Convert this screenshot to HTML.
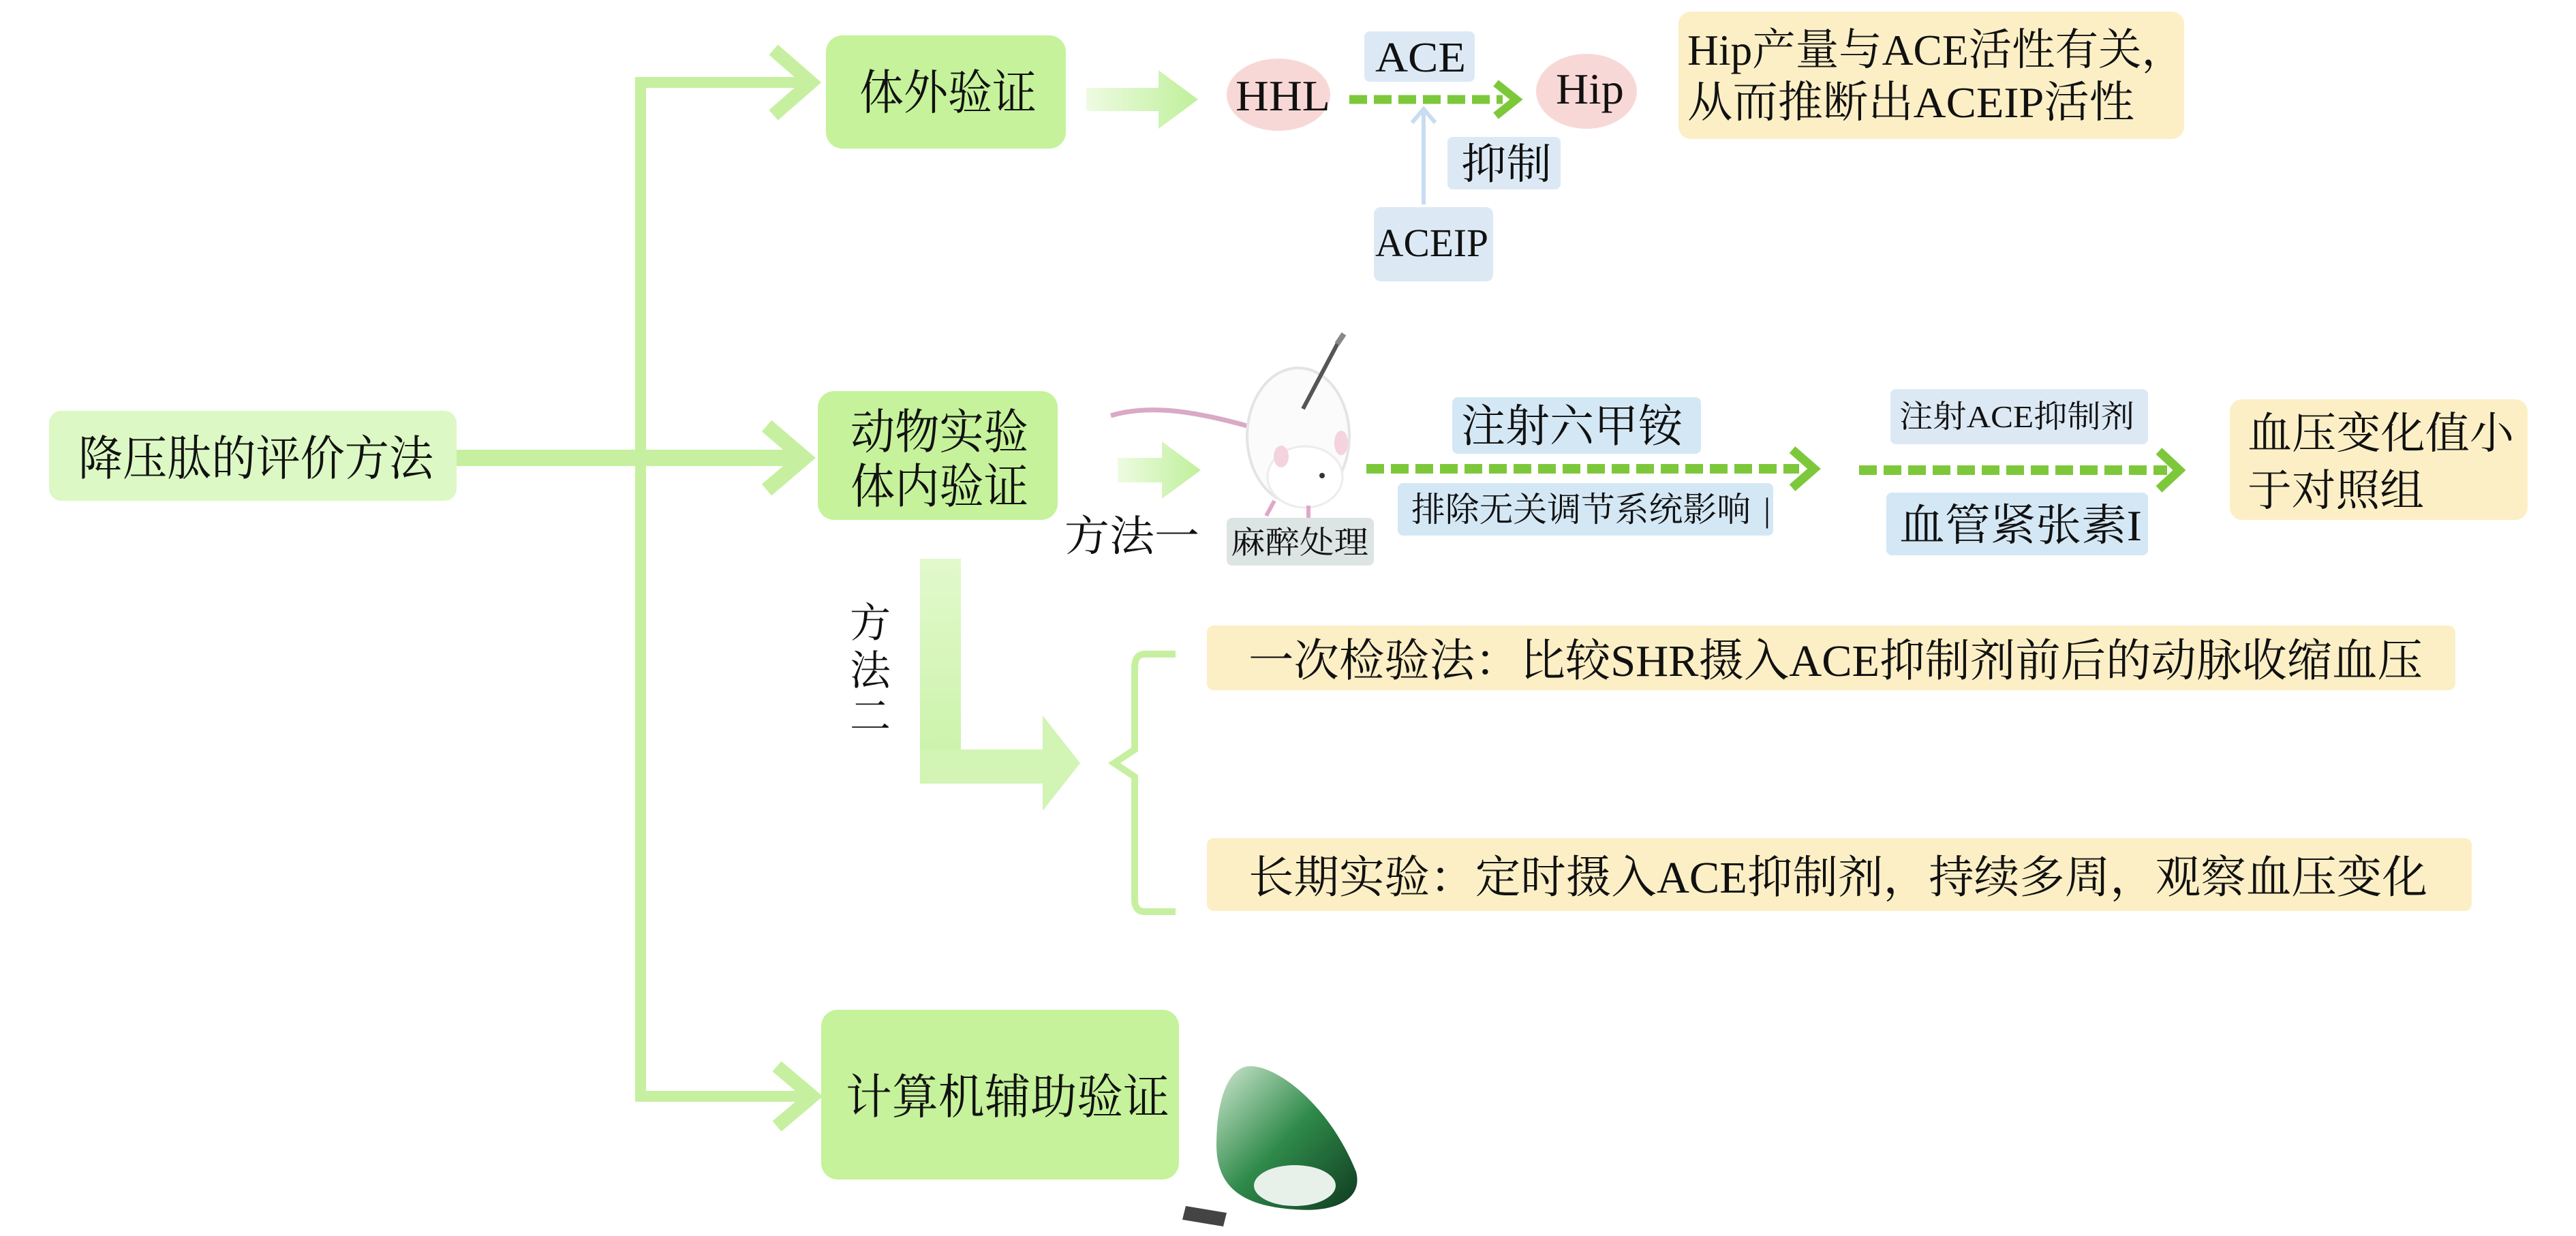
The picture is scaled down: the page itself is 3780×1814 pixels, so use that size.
<!DOCTYPE html>
<html><head><meta charset="utf-8"><style>
html,body{margin:0;padding:0;background:#fff;}
svg{display:block;}
text{font-family:"Liberation Serif","Noto Serif CJK SC","Noto Sans CJK SC",serif;fill:#111;}
</style></head><body>
<svg width="3780" height="1814" viewBox="0 0 3780 1814" xmlns="http://www.w3.org/2000/svg">
<defs>
<linearGradient id="ga" x1="0" x2="1"><stop offset="0" stop-color="#eefbe2"/><stop offset="1" stop-color="#bff09a"/></linearGradient>
<linearGradient id="gv" x1="0" y1="0" x2="0" y2="1"><stop offset="0" stop-color="#e2f9cc"/><stop offset="1" stop-color="#c8f2a6"/></linearGradient>
<linearGradient id="gc" x1="0" y1="0" x2="1" y2="1"><stop offset="0" stop-color="#cfe8d0"/><stop offset="0.5" stop-color="#2f8a4a"/><stop offset="1" stop-color="#0f3a20"/></linearGradient>
</defs>

<!-- main tree lines -->
<rect x="932" y="113" width="16" height="1504" fill="#c6f0a0"/>
<rect x="932" y="113" width="250" height="16" fill="#c6f0a0"/>
<polyline points="1135,73 1190,121 1135,169" fill="none" stroke="#c6f0a0" stroke-width="20"/>
<rect x="670" y="660" width="500" height="24" fill="#c6f0a0"/>
<polyline points="1125,625 1180,672 1125,719" fill="none" stroke="#c6f0a0" stroke-width="22"/>
<rect x="932" y="1601" width="250" height="16" fill="#c6f0a0"/>
<polyline points="1140,1565 1192,1609 1140,1653" fill="none" stroke="#c6f0a0" stroke-width="20"/>

<!-- root -->
<rect x="72" y="603" width="598" height="132" rx="18" fill="#dcf8c4"/>
<text x="115" y="697" font-size="70" textLength="521" lengthAdjust="spacingAndGlyphs">降压肽的评价方法</text>

<!-- level boxes -->
<rect x="1212" y="52" width="352" height="166" rx="24" fill="#c5f29a"/>
<text x="1261" y="160" font-size="70" textLength="260" lengthAdjust="spacingAndGlyphs">体外验证</text>
<rect x="1200" y="574" width="352" height="189" rx="24" fill="#c5f29a"/>
<text x="1248" y="658" font-size="70" textLength="261" lengthAdjust="spacingAndGlyphs">动物实验</text>
<text x="1248" y="738" font-size="70" textLength="261" lengthAdjust="spacingAndGlyphs">体内验证</text>
<rect x="1205" y="1482" width="525" height="249" rx="24" fill="#c5f29a"/>
<text x="1241" y="1634" font-size="70" textLength="475" lengthAdjust="spacingAndGlyphs">计算机辅助验证</text>

<!-- top branch -->
<path d="M1594,129 L1700,129 L1700,103 L1758,146 L1700,189 L1700,163 L1594,163 Z" fill="url(#ga)"/>
<ellipse cx="1876" cy="139" rx="76" ry="53" fill="#f8d8d6"/>
<text x="1813" y="162" font-size="64" textLength="139" lengthAdjust="spacingAndGlyphs">HHL</text>
<rect x="2002" y="46" width="162" height="74" rx="8" fill="#dce9f5"/>
<text x="2018" y="105" font-size="62" textLength="133" lengthAdjust="spacingAndGlyphs">ACE</text>
<line x1="1980" y1="146" x2="2205" y2="146" stroke="#7dc83a" stroke-width="13" stroke-dasharray="26,10"/>
<polyline points="2195,122 2225,146 2195,170" fill="none" stroke="#7dc83a" stroke-width="12"/>
<ellipse cx="2328" cy="134" rx="74" ry="55" fill="#f8d8d6"/>
<text x="2283" y="152" font-size="64" textLength="100" lengthAdjust="spacingAndGlyphs">Hip</text>
<rect x="2124" y="201" width="166" height="77" rx="8" fill="#dce9f5"/>
<text x="2144" y="262" font-size="62" textLength="133" lengthAdjust="spacingAndGlyphs">抑制</text>
<line x1="2089" y1="300" x2="2089" y2="165" stroke="#c8dcf2" stroke-width="6"/>
<polyline points="2072,180 2089,160 2106,180" fill="none" stroke="#c8dcf2" stroke-width="6"/>
<rect x="2016" y="304" width="175" height="109" rx="10" fill="#dce9f5"/>
<text x="2018" y="376" font-size="58" textLength="166" lengthAdjust="spacingAndGlyphs">ACEIP</text>
<rect x="2463" y="17" width="742" height="187" rx="18" fill="#fcefc6"/>
<text x="2476" y="95" font-size="64" textLength="730" lengthAdjust="spacingAndGlyphs">Hip产量与ACE活性有关，</text>
<text x="2476" y="172" font-size="64" textLength="656" lengthAdjust="spacingAndGlyphs">从而推断出ACEIP活性</text>

<!-- middle branch -->
<path d="M1640,672 L1705,672 L1705,648 L1762,690 L1705,732 L1705,708 L1640,708 Z" fill="url(#ga)"/>
<text x="1562" y="808" font-size="62" textLength="198" lengthAdjust="spacingAndGlyphs">方法一</text>
<!-- mouse -->
<path d="M1630,610 C1680,595 1740,600 1830,625" fill="none" stroke="#d9a9c6" stroke-width="7"/>
<ellipse cx="1905" cy="640" rx="75" ry="100" fill="#fbfbfb" stroke="#e4e4e4" stroke-width="4"/>
<ellipse cx="1915" cy="700" rx="55" ry="45" fill="#fff" stroke="#ececec" stroke-width="3"/>
<ellipse cx="1968" cy="650" rx="10" ry="18" fill="#f4d2de"/>
<ellipse cx="1880" cy="670" rx="11" ry="16" fill="#f4d2de"/>
<circle cx="1940" cy="698" r="4" fill="#333"/>
<path d="M1870,735 l-12,22 M1920,742 l0,20" stroke="#e0a8c8" stroke-width="6"/>
<line x1="1912" y1="600" x2="1965" y2="500" stroke="#555" stroke-width="6"/>
<line x1="1962" y1="505" x2="1972" y2="490" stroke="#888" stroke-width="8"/>
<rect x="1800" y="760" width="216" height="70" rx="8" fill="#dde4e4"/>
<text x="1806" y="812" font-size="46" textLength="202" lengthAdjust="spacingAndGlyphs">麻醉处理</text>
<rect x="2131" y="583" width="365" height="83" rx="8" fill="#d4e7f5"/>
<text x="2144" y="648" font-size="66" textLength="325" lengthAdjust="spacingAndGlyphs">注射六甲铵</text>
<line x1="2005" y1="688" x2="2640" y2="688" stroke="#7dc83a" stroke-width="14" stroke-dasharray="26,10"/>
<polyline points="2630,660 2662,688 2630,716" fill="none" stroke="#7dc83a" stroke-width="13"/>
<rect x="2051" y="709" width="551" height="77" rx="8" fill="#d4e7f5"/>
<text x="2071" y="765" font-size="50" textLength="498" lengthAdjust="spacingAndGlyphs">排除无关调节系统影响</text>
<text x="2588" y="765" font-size="50">|</text>
<rect x="2774" y="571" width="378" height="81" rx="8" fill="#dce9f5"/>
<text x="2787" y="627" font-size="46" textLength="345" lengthAdjust="spacingAndGlyphs">注射ACE抑制剂</text>
<line x1="2728" y1="690" x2="3180" y2="690" stroke="#7dc83a" stroke-width="14" stroke-dasharray="26,10"/>
<polyline points="3168,662 3198,690 3168,718" fill="none" stroke="#7dc83a" stroke-width="13"/>
<rect x="2768" y="723" width="384" height="92" rx="8" fill="#d4e7f5"/>
<text x="2787" y="793" font-size="64" textLength="356" lengthAdjust="spacingAndGlyphs">血管紧张素I</text>
<rect x="3272" y="586" width="437" height="177" rx="18" fill="#fcefc6"/>
<text x="3298" y="658" font-size="64" textLength="391" lengthAdjust="spacingAndGlyphs">血压变化值小</text>
<text x="3298" y="742" font-size="64" textLength="259" lengthAdjust="spacingAndGlyphs">于对照组</text>

<!-- method two -->
<text x="1277" y="935" font-size="60" text-anchor="middle">方</text>
<text x="1277" y="1005" font-size="60" text-anchor="middle">法</text>
<text x="1277" y="1072" font-size="60" text-anchor="middle">二</text>
<rect x="1350" y="820" width="60" height="330" fill="url(#gv)"/>
<path d="M1350,1100 L1530,1100 L1530,1050 L1585,1120 L1530,1190 L1530,1150 L1350,1150 Z" fill="#d2f4b4"/>
<path d="M1725,960 L1680,960 Q1665,960 1665,980 L1665,1100 L1635,1120 L1665,1140 L1665,1320 Q1665,1338 1680,1338 L1725,1338" fill="none" stroke="#c6f0a0" stroke-width="10"/>
<rect x="1771" y="918" width="1832" height="95" rx="10" fill="#fcefc6"/>
<text x="1832" y="992" font-size="66" textLength="1723" lengthAdjust="spacingAndGlyphs">一次检验法：比较SHR摄入ACE抑制剂前后的动脉收缩血压</text>
<rect x="1771" y="1230" width="1856" height="107" rx="10" fill="#fcefc6"/>
<text x="1832" y="1310" font-size="66" textLength="1730" lengthAdjust="spacingAndGlyphs">长期实验：定时摄入ACE抑制剂，持续多周，观察血压变化</text>

<!-- computer -->
<path d="M1830,1565 C1870,1560 1950,1620 1990,1720 C2000,1760 1960,1780 1900,1775 C1820,1770 1785,1740 1785,1680 C1785,1620 1800,1570 1830,1565 Z" fill="url(#gc)"/>
<ellipse cx="1900" cy="1740" rx="60" ry="30" fill="#e8f0ea"/>
<path d="M1740,1770 l60,10 l-5,20 l-60,-10 Z" fill="#444"/>
</svg>
</body></html>
